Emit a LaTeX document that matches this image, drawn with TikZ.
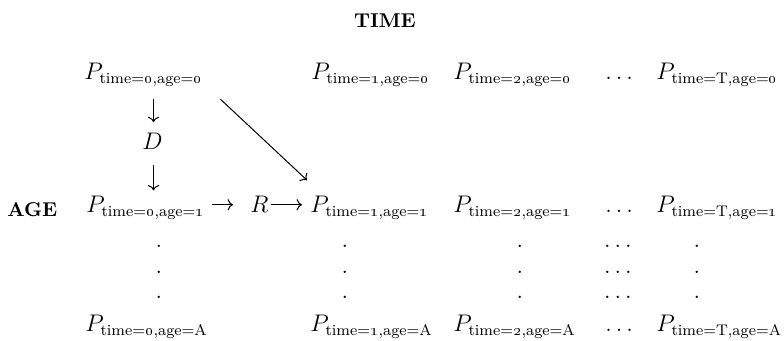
\documentclass[tikz,border=0pt,12pt]{standalone}
\usepackage{amsmath}
\usetikzlibrary{arrows.meta}
\DeclareMathSizes{12}{12}{7.7}{6}
\newcommand\Pcell[2]{$P_{\text{time=#1,age=#2}}$}
\newcommand\os[1]{\oldstylenums{#1}}
\begin{document}
\begin{tikzpicture}[x=0.5pt,y=-0.5pt,
  lab/.style={inner sep=0pt, anchor=base west},
  hd/.style={inner sep=0pt, font=\fontsize{10}{12}\selectfont\bfseries},
  dotn/.style={inner sep=0pt, anchor=center},
  arr/.style={-{Computer Modern Rightarrow}, line width=0.5pt}]
\useasboundingbox (0,0) rectangle (784,341);
% headers
\node[hd, anchor=base] (time) at (385,28) {TIME};
\node[hd, anchor=base west] (age) at (7,217) {AGE};
% row 0
\node[lab] (a00) at (84,80) {\Pcell{\os{0}}{\os{0}}};
\node[lab] (a10) at (311,80) {\Pcell{\os{1}}{\os{0}}};
\node[lab] (a20) at (453,80) {\Pcell{\os{2}}{\os{0}}};
\node[lab] (e0) at (605,80) {$\ldots$};
\node[lab] (aT0) at (656,80) {\Pcell{T}{\os{0}}};
% D
\node[lab] (D) at (142,150) {$D$};
% row 1
\node[lab] (a01) at (86,213) {\Pcell{\os{0}}{\os{1}}};
\node[lab] (R) at (250,213) {$R$};
\node[lab] (a11) at (310,213) {\Pcell{\os{1}}{\os{1}}};
\node[lab] (a21) at (453,213) {\Pcell{\os{2}}{\os{1}}};
\node[lab] (e1) at (605,213) {$\ldots$};
\node[lab] (aT1) at (656,213) {\Pcell{T}{\os{1}}};
% dot rows
\foreach \y/\k in {246/1,272/2,297/3}{
  \node[dotn] (v0\k) at (159,\y) {.};
  \node[dotn] (v1\k) at (345,\y) {.};
  \node[dotn] (v2\k) at (520,\y) {.};
  \node[dotn] (m\k) at (618,\y) {$\ldots$};
  \node[dotn] (vT\k) at (697,\y) {.};
}
% row A
\node[lab] (a0A) at (85,332) {\Pcell{\os{0}}{A}};
\node[lab] (a1A) at (310,332) {\Pcell{\os{1}}{A}};
\node[lab] (a2A) at (453,332) {\Pcell{\os{2}}{A}};
\node[lab] (eA) at (605,332) {$\ldots$};
\node[lab] (aTA) at (656,332) {\Pcell{T}{A}};
% arrows
\draw[arr] ([shift={(1,-34)}]D.north) -- ([shift={(1,-11)}]D.north);
\draw[arr] ([shift={(1,15)}]D.south) -- ([shift={(1,40)}]D.south);
\draw[arr] ([shift={(7,0)}]a01.east |- R.center) -- ([shift={(-17,0)}]R.west);
\draw[arr] ([shift={(2,0)}]R.east) -- ([shift={(-8,0)}]a11.west |- R.center);
\draw[arr] ([shift={(17,12)}]a00.south east) -- ([shift={(-3,-16)}]a11.north west);
\end{tikzpicture}
\end{document}
